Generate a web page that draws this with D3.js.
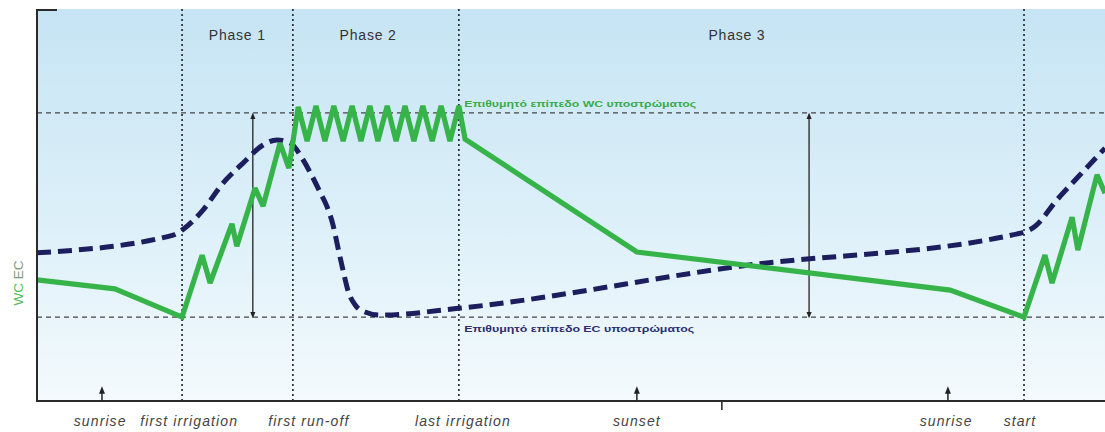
<!DOCTYPE html>
<html><head><meta charset="utf-8">
<script src="https://cdn.jsdelivr.net/npm/d3@7/dist/d3.min.js"></script>
<style>html,body{margin:0;padding:0;background:#fff;}svg{display:block;}</style>
</head><body>
<script>
// ---- data (time in hours-like units, level in % of scale) ----
const wcTime  = [0, 1.75, 3.26, 3.71, 3.89, 4.38, 4.49, 4.90, 5.08, 5.46, 5.66, 5.87,
  6.07, 6.27, 6.47, 6.67, 6.88, 7.08, 7.28, 7.48, 7.66, 7.87, 8.07, 8.27, 8.47, 8.67, 8.88, 9.08, 9.28, 9.48,
  9.62, 13.48, 20.52, 22.18, 22.65, 22.81, 23.26, 23.39, 23.82, 24.0];
const wcValue = [30.9, 28.6, 21.4, 37.2, 30.1, 45.2, 39.5, 54.3, 49.7, 65.8, 59.4, 75.0,
  66.3, 75.3, 66.3, 75.3, 66.3, 75.3, 66.3, 75.3, 66.3, 75.3, 66.3, 75.3, 66.3, 75.3, 66.3, 75.3, 66.3, 75.3,
  66.8, 38.0, 28.3, 21.4, 37.2, 30.1, 46.9, 38.5, 57.7, 53.0];
const ecTime  = [0, 3.06, 3.26, 3.73, 4.18, 4.63, 5.08, 5.39, 5.69, 5.98, 6.18, 6.36, 6.52, 6.65, 6.76, 6.88, 6.99, 7.15, 7.37, 7.71, 9.51, 15.8, 22.13, 22.43, 22.92, 23.44, 24.0];
const ecValue = [37.8, 42.3, 43.6, 48.7, 55.6, 60.7, 65.3, 66.6, 65.8, 61.5, 57.4, 53.3, 49.5, 45.0, 39.3, 33.2, 28.1, 24.5, 22.7, 21.9, 23.7, 34.4, 42.9, 44.6, 51.3, 57.7, 64.5];

const wcTarget = 73.5, ecTarget = 21.4;
const wcTargetLabel = "Επιθυμητό επίπεδο WC υποστρώματος";
const ecTargetLabel = "Επιθυμητό επίπεδο EC υποστρώματος";

const dividerTimes = [3.26, 5.75, 9.48, 22.18];
const phaseNames = ["Phase 1", "Phase 2", "Phase 3"];
const phaseLabelTimes = [4.5, 7.44, 15.73];

const eventLabels = ["sunrise", "first irrigation", "first run-off", "last irrigation", "sunset", "sunrise", "start"];
const eventLabelTimes = [1.42, 3.42, 6.11, 9.57, 13.48, 20.43, 22.09];
const sunArrowTimes = [1.46, 13.48, 20.47];
const smallTickTimes = [15.39];
const rangeArrowTimes = [4.85, 17.35];

// ---- drawing ----
const W = 1105, H = 432;
const svg = d3.select("body").append("svg").attr("width", W).attr("height", H);
const x = d3.scaleLinear().domain([0, 24]).range([37, 1105]);
const y = d3.scaleLinear().domain([0, 100]).range([401, 9]);

const defs = svg.append("defs");
const grad = defs.append("linearGradient").attr("id", "bg").attr("x1", 0).attr("y1", 0).attr("x2", 0).attr("y2", 1);
grad.append("stop").attr("offset", "0%").attr("stop-color", "#c6e4f4");
grad.append("stop").attr("offset", "55%").attr("stop-color", "#ddf0f9");
grad.append("stop").attr("offset", "100%").attr("stop-color", "#f4fafd");
defs.append("clipPath").attr("id", "clip").append("rect")
  .attr("x", x(0)).attr("y", y(100)).attr("width", x(24) - x(0)).attr("height", y(0) - y(100));
const mk = (id, color, size) => {
  defs.append("marker").attr("id", id).attr("viewBox", "0 0 10 10").attr("refX", 5).attr("refY", 5)
    .attr("markerWidth", size).attr("markerHeight", size).attr("orient", "auto-start-reverse")
    .append("path").attr("d", "M0,1 L10,5 L0,9 Z").attr("fill", color);
};
mk("arr", "#222", 5);

svg.append("rect").attr("x", x(0)).attr("y", y(100)).attr("width", x(24) - x(0)).attr("height", y(0) - y(100))
  .attr("fill", "url(#bg)");

// target lines
svg.selectAll("line.target").data([wcTarget, ecTarget]).join("line")
  .attr("x1", x(0)).attr("x2", x(24)).attr("y1", d => y(d)).attr("y2", d => y(d))
  .attr("stroke", "#444").attr("stroke-width", 1.4).attr("stroke-dasharray", "5,4");

// dividers
svg.selectAll("line.div").data(dividerTimes).join("line")
  .attr("x1", d => x(d)).attr("x2", d => x(d)).attr("y1", y(100)).attr("y2", y(0))
  .attr("stroke", "#222").attr("stroke-width", 1.6).attr("stroke-dasharray", "2,3");

// phase labels
svg.selectAll("text.phase").data(phaseNames).join("text")
  .attr("x", (d, i) => x(phaseLabelTimes[i])).attr("y", 40).attr("text-anchor", "middle")
  .attr("font-family", "Liberation Sans, Arial, sans-serif").attr("font-size", 14).attr("letter-spacing", 0.8)
  .attr("fill", "#333").text(d => d);

// range arrows
svg.selectAll("line.range").data(rangeArrowTimes).join("line")
  .attr("x1", d => x(d)).attr("x2", d => x(d)).attr("y1", y(wcTarget) + 3).attr("y2", y(ecTarget) - 2)
  .attr("stroke", "#222").attr("stroke-width", 1.3)
  .attr("marker-start", "url(#arr)").attr("marker-end", "url(#arr)");

const g = svg.append("g").attr("clip-path", "url(#clip)");
// EC dashed curve
g.append("path").datum(ecTime.map((t, i) => [t, ecValue[i]]))
  .attr("d", d3.line().x(d => x(d[0])).y(d => y(d[1])).curve(d3.curveMonotoneX))
  .attr("fill", "none").attr("stroke", "#1c1e5e").attr("stroke-width", 5).attr("stroke-dasharray", "14,7");
// WC line
g.append("path").datum(wcTime.map((t, i) => [t, wcValue[i]]))
  .attr("d", d3.line().x(d => x(d[0])).y(d => y(d[1])))
  .attr("fill", "none").attr("stroke", "#36b44a").attr("stroke-width", 5.2)
  .attr("stroke-linejoin", "miter").attr("stroke-miterlimit", 2.2);

// target labels
svg.append("text").attr("x", x(9.6)).attr("y", y(wcTarget) - 6)
  .attr("font-family", "Liberation Sans, Arial, sans-serif").attr("font-size", 9.5).attr("font-weight", "bold")
  .attr("fill", "#3aa94c").attr("textLength", 232).attr("lengthAdjust", "spacingAndGlyphs").text(wcTargetLabel);
svg.append("text").attr("x", x(9.6)).attr("y", y(ecTarget) + 15)
  .attr("font-family", "Liberation Sans, Arial, sans-serif").attr("font-size", 9.5).attr("font-weight", "bold")
  .attr("fill", "#2b2e72").attr("textLength", 230).attr("lengthAdjust", "spacingAndGlyphs").text(ecTargetLabel);

// axes
svg.append("path").attr("d", `M${x(0) + 20},${y(100) + 1} H${x(0)} V${y(0)} H${x(24)}`)
  .attr("fill", "none").attr("stroke", "#2a2a2a").attr("stroke-width", 2);

// sun arrows
svg.selectAll("line.sun").data(sunArrowTimes).join("line")
  .attr("x1", d => x(d)).attr("x2", d => x(d)).attr("y1", y(0)).attr("y2", y(0) - 11)
  .attr("stroke", "#222").attr("stroke-width", 1.5).attr("marker-end", "url(#arr)");
svg.selectAll("line.tick").data(smallTickTimes).join("line")
  .attr("x1", d => x(d)).attr("x2", d => x(d)).attr("y1", y(0)).attr("y2", y(0) + 9)
  .attr("stroke", "#222").attr("stroke-width", 1.5);

// event labels
svg.selectAll("text.ev").data(eventLabels).join("text")
  .attr("x", (d, i) => x(eventLabelTimes[i])).attr("y", 426).attr("text-anchor", "middle")
  .attr("font-family", "Liberation Sans, Arial, sans-serif").attr("font-size", 14).attr("font-style", "italic")
  .attr("letter-spacing", 1.1).attr("fill", "#444").text(d => d);

// y axis label
const yl = svg.append("text").attr("transform", `translate(23,${283}) rotate(-90)`).attr("text-anchor", "middle")
  .attr("font-family", "Liberation Sans, Arial, sans-serif").attr("font-size", 13.5);
yl.append("tspan").attr("fill", "#4fba5a").text("WC ");
yl.append("tspan").attr("fill", "#7a9a82").text("EC");
</script>
</body></html>
